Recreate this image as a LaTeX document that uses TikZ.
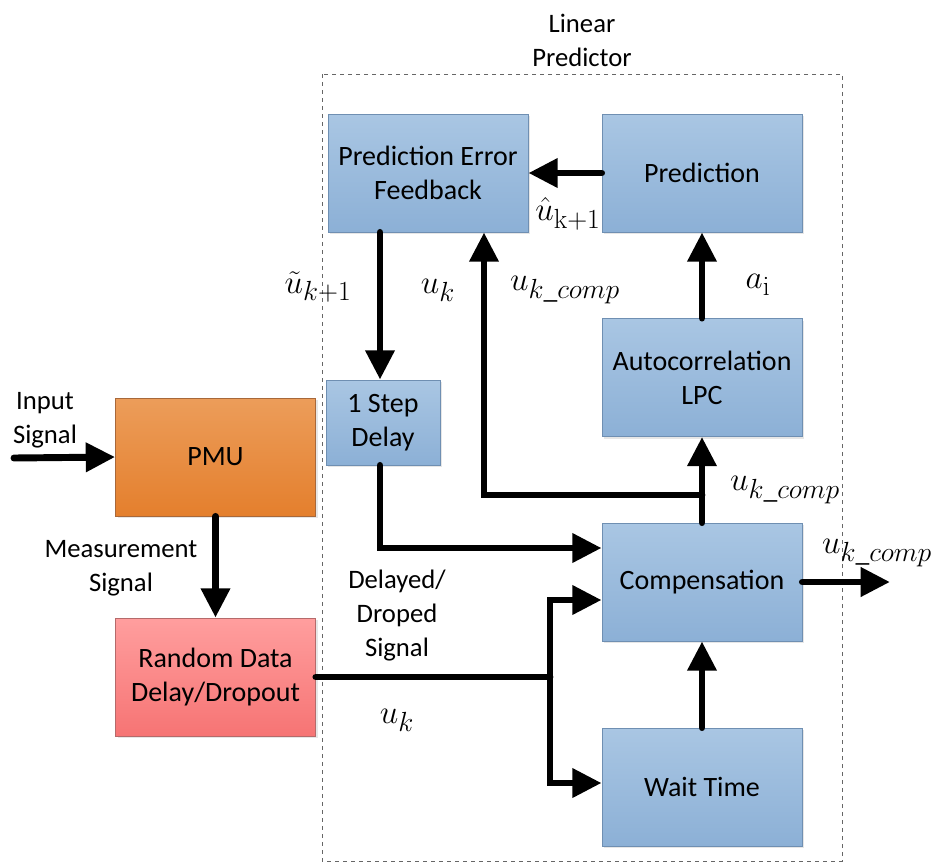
\documentclass[tikz,border=0pt]{standalone}
\usepackage{amsmath,amssymb}
\usepackage[no-math]{fontspec}
\setmainfont{Carlito}
\usetikzlibrary{calc}
\usetikzlibrary{positioning}
\usetikzlibrary{arrows.meta}
\usetikzlibrary{shadows}
\definecolor{blockBlueTop}{HTML}{A9C6E3}
\definecolor{blockBlueBot}{HTML}{8CB0D6}
\definecolor{blockBlueLine}{HTML}{6F8FB2}
\definecolor{pmuTop}{HTML}{EC9D5A}
\definecolor{pmuBot}{HTML}{E47F2D}
\definecolor{pmuLine}{HTML}{A8683A}
\definecolor{rddTop}{HTML}{FF9E9E}
\definecolor{rddBot}{HTML}{F67474}
\definecolor{rddLine}{HTML}{B56A6A}
\tikzset{
  block/.style={draw=blockBlueLine, line width=0.6pt, top color=blockBlueTop, bottom color=blockBlueBot,
    minimum width=150pt, minimum height=88.5pt, align=center, inner sep=2pt,
    font=\fontsize{21}{25.5}\selectfont,
    drop shadow={shadow xshift=1.5pt, shadow yshift=-1.5pt, opacity=0.2}},
  pmublock/.style={block, draw=pmuLine, top color=pmuTop, bottom color=pmuBot},
  rddblock/.style={block, draw=rddLine, top color=rddTop, bottom color=rddBot},
  sig/.style={line width=5.2pt, line cap=round, -{Triangle[length=22pt, width=21pt]}},
  wire/.style={line width=5.2pt, line cap=round},
  lbl/.style={align=center, inner sep=0pt, font=\fontsize{20}{25.5}\selectfont},
  mlbl/.style={inner sep=0pt, font=\Huge},
}
\begin{document}
\begin{tikzpicture}[x=0.75pt, y=-0.75pt]
            \useasboundingbox (0,0) rectangle (935,861);
            \draw[gray!80!black, dashed, line width=0.6pt] (322,74) rectangle (842,861);
            \node[lbl] (lp) at (582,40) {Linear\\Predictor};

            \node[block] (pef) at (428,173) {Prediction Error\\Feedback};
            \node[block] (pred) at (702,173) {Prediction};
            \node[block] (auto) at (702,377.5) {Autocorrelation\\LPC};
            \node[block, minimum width=85.5pt, minimum height=63.75pt] (delay) at (383,422.5) {1 Step\\Delay};
            \node[pmublock] (pmu) at (215.5,457) {PMU};
            \node[rddblock] (rdd) at (215.5,677) {Random Data\\Delay/Dropout};
            \node[block] (comp) at (702,582) {Compensation};
            \node[block] (wait) at (702,787) {Wait Time};

            \coordinate (in) at (14,458);
            \coordinate (out) at (890,582);
            \coordinate (br) at (702,495);
            \coordinate (fb) at (484,495);
            \coordinate (sp) at (rdd.east -| 550,0);

            \draw[sig] (in) -- (pmu.west);
            \draw[sig] (pmu.south) -- (rdd.north);
            \draw[sig] (pred.west) -- (pef.east);
            \draw[sig] (pef.south -| 380,0) -- (delay.north -| 380,0);
            \draw[sig] (auto.north) -- (pred.south);
            \draw[sig] (comp.north) -- (auto.south);
            \draw[sig] (br) -- (fb) -- (fb |- pef.south);
            \draw[sig] (delay.south -| 380,0) |- ($(comp.west)+(0,-34)$);
            \draw[wire] (rdd.east) -- (sp);
            \draw[sig] (sp) |- ($(comp.west)+(0,18)$);
            \draw[sig] (sp) |- ($(wait.west)+(0,-4)$);
            \draw[sig] (wait.north) -- (comp.south);
            \draw[sig] (comp.east) -- (out);

            \node[lbl] (inlbl) at (45,420) {Input\\Signal};
            \node[lbl] (measlbl) at (121,568) {Measurement\\Signal};
            \node[lbl] (dellbl) at (397,616) {Delayed/\\Droped\\Signal};
            \node[mlbl] (uhat) at (568,214) {$\hat{u}_{\mathrm{k+1}}$};
            \node[mlbl] (utilde) at (318,287) {$\tilde{u}_{k+1}$};
            \node[mlbl] (ukfb) at (438,290) {$u_k$};
            \node[mlbl] (ucompfb) at (565,290) {$u_{k\_comp}$};
            \node[mlbl] (ai) at (758,285) {$a_{\mathrm{i}}$};
            \node[mlbl] (ucompbr) at (785,490) {$u_{k\_comp}$};
            \node[mlbl] (ucompout) at (877,553) {$u_{k\_comp}$};
            \node[mlbl] (ukin) at (397,720) {$u_k$};
        \end{tikzpicture}
\end{document}
